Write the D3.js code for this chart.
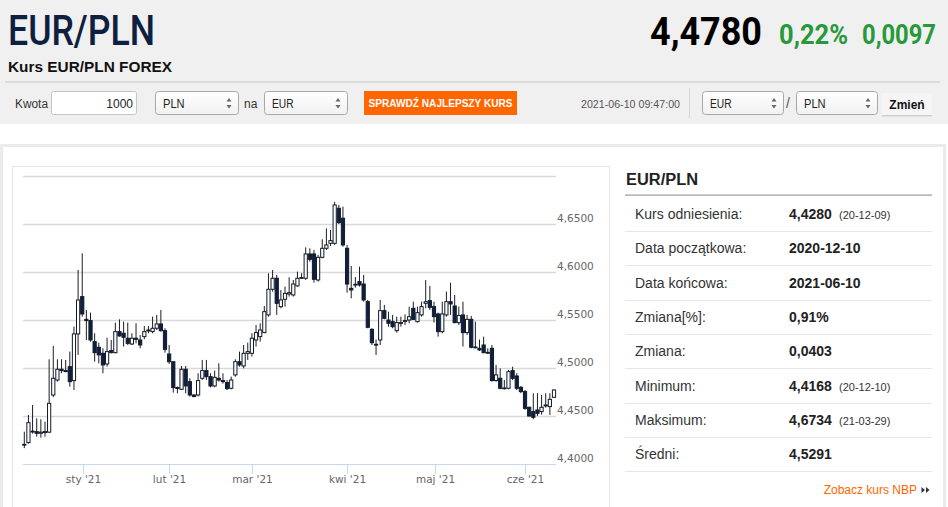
<!DOCTYPE html>
<html><head><meta charset="utf-8">
<script src="https://cdn.jsdelivr.net/npm/d3@7/dist/d3.min.js"></script>
<style>html,body{margin:0;padding:0;background:#fff;overflow:hidden}svg{display:block}</style>
</head><body>
<script>
// ---------- DATA ----------
const dates = [
"2020-12-10","2020-12-11","2020-12-14","2020-12-15","2020-12-16","2020-12-17","2020-12-18","2020-12-21","2020-12-22","2020-12-23","2020-12-24","2020-12-28","2020-12-29","2020-12-30","2020-12-31",
"2021-01-04","2021-01-05","2021-01-06","2021-01-07","2021-01-08","2021-01-11","2021-01-12","2021-01-13","2021-01-14","2021-01-15","2021-01-18","2021-01-19","2021-01-20","2021-01-21","2021-01-22","2021-01-25","2021-01-26","2021-01-27","2021-01-28","2021-01-29",
"2021-02-01","2021-02-02","2021-02-03","2021-02-04","2021-02-05","2021-02-08","2021-02-09","2021-02-10","2021-02-11","2021-02-12","2021-02-15","2021-02-16","2021-02-17","2021-02-18","2021-02-19","2021-02-22","2021-02-23","2021-02-24","2021-02-25","2021-02-26",
"2021-03-01","2021-03-02","2021-03-03","2021-03-04","2021-03-05","2021-03-08","2021-03-09","2021-03-10","2021-03-11","2021-03-12","2021-03-15","2021-03-16","2021-03-17","2021-03-18","2021-03-19","2021-03-22","2021-03-23","2021-03-24","2021-03-25","2021-03-26","2021-03-29","2021-03-30","2021-03-31",
"2021-04-01","2021-04-02","2021-04-05","2021-04-06","2021-04-07","2021-04-08","2021-04-09","2021-04-12","2021-04-13","2021-04-14","2021-04-15","2021-04-16","2021-04-19","2021-04-20","2021-04-21","2021-04-22","2021-04-23","2021-04-26","2021-04-27","2021-04-28","2021-04-29","2021-04-30",
"2021-05-03","2021-05-04","2021-05-05","2021-05-06","2021-05-07","2021-05-10","2021-05-11","2021-05-12","2021-05-13","2021-05-14","2021-05-17","2021-05-18","2021-05-19","2021-05-20","2021-05-21","2021-05-24","2021-05-25","2021-05-26","2021-05-27","2021-05-28","2021-05-31",
"2021-06-01","2021-06-02","2021-06-03","2021-06-04","2021-06-07","2021-06-08","2021-06-09","2021-06-10"];

const open = [
4.4208,4.4226,4.4345,4.4340,4.4323,4.4340,4.4335,4.4722,4.4878,4.4990,4.4976,4.5017,4.4872,4.5358,4.5747,
4.5510,4.5497,4.5278,4.5219,4.5156,4.5045,4.5184,4.5163,4.5382,4.5365,4.5313,4.5253,4.5313,4.5295,4.5330,4.5399,4.5382,4.5417,4.5462,4.5392,
4.5149,4.5069,4.4800,4.4781,4.4990,4.4861,4.4722,4.4722,4.4896,4.4976,4.4913,4.4816,4.4896,4.4872,4.4851,4.4792,4.4931,4.5069,4.5024,4.5156,
4.5156,4.5295,4.5330,4.5372,4.5556,4.5823,4.5938,4.5642,4.5719,4.5774,4.5764,4.5858,4.5938,4.5938,4.6191,4.6191,4.5920,4.6156,4.6250,4.6302,4.6302,4.6667,4.6563,
4.6250,4.5833,4.5868,4.5903,4.5878,4.5694,4.5406,4.5250,4.5295,4.5601,4.5503,4.5486,4.5392,4.5470,4.5490,4.5503,4.5625,4.5486,4.5556,4.5677,4.5705,4.5642,
4.5566,4.5382,4.5556,4.5694,4.5649,4.5476,4.5556,4.5372,4.5510,4.5222,4.5208,4.5243,4.5166,4.5208,4.4872,4.4896,4.4795,4.4792,4.4976,4.4920,4.4802,
4.4757,4.4594,4.4549,4.4566,4.4549,4.4608,4.4601,4.4698];

const high = [
4.4340,4.4514,4.4618,4.4479,4.4469,4.4444,4.5094,4.5233,4.5094,4.5094,4.5087,4.5174,4.5434,4.6024,4.6198,
4.5608,4.5580,4.5365,4.5267,4.5208,4.5319,4.5295,4.5476,4.5510,4.5486,4.5476,4.5365,4.5469,4.5347,4.5441,4.5441,4.5538,4.5556,4.5608,4.5417,
4.5243,4.5069,4.4810,4.5024,4.5024,4.4896,4.4730,4.4948,4.5087,4.5087,4.4948,4.4976,4.5052,4.4948,4.4878,4.4913,4.5094,4.5174,4.5243,4.5267,
4.5365,4.5451,4.5469,4.5649,4.5990,4.6024,4.5972,4.5816,4.5851,4.5948,4.5920,4.6007,4.5990,4.6260,4.6250,4.6233,4.6181,4.6344,4.6458,4.6441,4.6734,4.6701,4.6684,
4.6285,4.6066,4.5950,4.6059,4.5972,4.5712,4.5417,4.5300,4.5712,4.5660,4.5590,4.5556,4.5538,4.5538,4.5562,4.5642,4.5694,4.5642,4.5694,4.5920,4.5858,4.5694,
4.5580,4.5694,4.5799,4.5892,4.5764,4.5642,4.5694,4.5556,4.5545,4.5486,4.5300,4.5330,4.5208,4.5243,4.5035,4.5000,4.4878,4.4983,4.5017,4.4948,4.4816,
4.4774,4.4601,4.4740,4.4740,4.4722,4.4740,4.4740,4.4781];

const low = [
4.4168,4.4215,4.4320,4.4288,4.4278,4.4288,4.4325,4.4700,4.4861,4.4948,4.4962,4.4809,4.4774,4.5139,4.5538,
4.5295,4.5278,4.5069,4.5052,4.4948,4.5017,4.5156,4.5156,4.5330,4.5226,4.5243,4.5243,4.5260,4.5208,4.5302,4.5365,4.5365,4.5399,4.5382,4.5163,
4.5045,4.4747,4.4740,4.4775,4.4740,4.4705,4.4700,4.4705,4.4878,4.4878,4.4802,4.4802,4.4861,4.4840,4.4774,4.4781,4.4913,4.5017,4.5000,4.5087,
4.5122,4.5226,4.5278,4.5365,4.5538,4.5799,4.5556,4.5625,4.5642,4.5747,4.5747,4.5851,4.5931,4.5920,4.6111,4.5892,4.5903,4.6146,4.6233,4.6274,4.6285,4.6503,4.6267,
4.5788,4.5729,4.5840,4.5851,4.5694,4.5417,4.5243,4.5139,4.5243,4.5510,4.5434,4.5417,4.5372,4.5434,4.5451,4.5469,4.5503,4.5476,4.5538,4.5625,4.5608,4.5476,
4.5330,4.5365,4.5538,4.5556,4.5469,4.5451,4.5226,4.5347,4.5208,4.5208,4.5180,4.5156,4.5150,4.4861,4.4861,4.4781,4.4781,4.4781,4.4878,4.4774,4.4740,
4.4566,4.4497,4.4469,4.4503,4.4517,4.4590,4.4514,4.4691];

const close = [
4.4201,4.4434,4.4338,4.4323,4.4335,4.4332,4.4635,4.4896,4.4990,4.4976,4.4965,4.4861,4.5358,4.5712,4.5566,
4.5497,4.5295,4.5163,4.5140,4.5035,4.5174,4.5163,4.5382,4.5337,4.5323,4.5260,4.5313,4.5302,4.5243,4.5382,4.5389,4.5417,4.5462,4.5392,4.5198,
4.5069,4.4799,4.4790,4.4990,4.4816,4.4722,4.4705,4.4872,4.4976,4.4913,4.4816,4.4906,4.4878,4.4861,4.4788,4.4878,4.5069,4.5035,4.5156,4.5174,
4.5313,4.5372,4.5399,4.5590,4.5823,4.5938,4.5677,4.5712,4.5781,4.5788,4.5878,4.5938,4.5945,4.6191,4.6135,4.5927,4.6156,4.6250,4.6285,4.6330,4.6701,4.6517,4.6285,
4.5878,4.5816,4.5875,4.5868,4.5712,4.5427,4.5267,4.5243,4.5601,4.5521,4.5469,4.5434,4.5476,4.5476,4.5497,4.5538,4.5510,4.5580,4.5642,4.5694,4.5635,4.5538,
4.5382,4.5566,4.5694,4.5670,4.5476,4.5550,4.5372,4.5510,4.5219,4.5219,4.5191,4.5163,4.5163,4.4872,4.4931,4.4792,4.4792,4.4965,4.4896,4.4792,4.4757,
4.4583,4.4503,4.4490,4.4531,4.4594,4.4618,4.4677,4.4774];

const yTicks = [4.40, 4.45, 4.50, 4.55, 4.60, 4.65, 4.70];
const yTickLabels = ["4,4000","4,4500","4,5000","4,5500","4,6000","4,6500",""];
const monthTicks = ["2021-01-01","2021-02-01","2021-03-01","2021-04-01","2021-05-01","2021-06-01"];
const monthLabels = ["sty '21","lut '21","mar '21","kwi '21","maj '21","cze '21"];

const statLabels = ["Kurs odniesienia:","Data początkowa:","Data końcowa:","Zmiana[%]:","Zmiana:","Minimum:","Maksimum:","Średni:"];
const statValues = ["4,4280","2020-12-10","2021-06-10","0,91%","0,0403","4,4168","4,6734","4,5291"];
const statDates  = ["(20-12-09)","","","","","(20-12-10)","(21-03-29)",""];

const pairTitle = "EUR/PLN";
const subTitle = "Kurs EUR/PLN FOREX";
const lastPrice = "4,4780", changePct = "0,22%", changeAbs = "0,0097";
const timestamp = "2021-06-10 09:47:00";

// ---------- DRAW ----------
const W = 948, H = 507;
const svg = d3.select("body").append("svg").attr("width", W).attr("height", H);
const SANS = "'Liberation Sans', Arial, sans-serif";
const NAVY = "#0e2040";

svg.append("rect").attr("x",0).attr("y",0).attr("width",W).attr("height",124).attr("fill","#f0f0f0");
svg.append("rect").attr("x",1.5).attr("y",145.5).attr("width",943).attr("height",372)
  .attr("fill","#fff").attr("stroke","#ebebeb").attr("stroke-width",3);

function txt(x, y, s, o) {
  const t = svg.append("text").attr("x", x).attr("y", y).text(s)
    .attr("font-family", o.font || SANS).attr("font-size", o.size)
    .attr("font-weight", o.weight || "normal").attr("fill", o.fill || "#333")
    .attr("text-anchor", o.anchor || "start");
  if (o.len) t.attr("textLength", o.len).attr("lengthAdjust", "spacingAndGlyphs");
  return t;
}

txt(8, 45, pairTitle, {font:"Roboto, sans-serif", size:42, weight:500, fill:NAVY, len:147});
txt(8, 72, subTitle, {size:15, weight:"bold", fill:"#111", len:164});
txt(650, 45, lastPrice, {font:"Roboto, sans-serif", size:38, weight:"bold", fill:"#000", len:112});
txt(779, 44, changePct, {font:"Roboto, sans-serif", size:27, weight:"bold", fill:"#27993b", len:69});
txt(862, 44, changeAbs, {font:"Roboto, sans-serif", size:27, weight:"bold", fill:"#27993b", len:74});
svg.append("rect").attr("x",5).attr("y",81).attr("width",935).attr("height",2).attr("fill","#dcdcdc");

const defs = svg.append("defs");
const g1 = defs.append("linearGradient").attr("id","selg").attr("x1",0).attr("y1",0).attr("x2",0).attr("y2",1);
g1.append("stop").attr("offset","0").attr("stop-color","#ffffff");
g1.append("stop").attr("offset","1").attr("stop-color","#f1f1f1");

txt(15, 107.5, "Kwota", {size:12, fill:"#333", len:33});
svg.append("rect").attr("x",51.5).attr("y",91.5).attr("width",85).attr("height",23).attr("rx",2)
  .attr("fill","#fff").attr("stroke","#c4c4c4");
txt(133, 107.5, "1000", {size:12, fill:"#222", anchor:"end"});

function select(x, w, label) {
  svg.append("rect").attr("x",x+0.5).attr("y",91.5).attr("width",w).attr("height",23).attr("rx",3)
    .attr("fill","url(#selg)").attr("stroke","#a8a8a8");
  txt(x+8, 107.5, label, {size:12.5, fill:"#222", len:label.length*7.2});
  const ax = x + w - 9;
  svg.append("path").attr("d",`M${ax-2.5},${101.5}L${ax+2.5},${101.5}L${ax},${98}Z`).attr("fill","#666");
  svg.append("path").attr("d",`M${ax-2.5},${105}L${ax+2.5},${105}L${ax},${108.5}Z`).attr("fill","#666");
}
select(155, 83, "PLN");
txt(244, 107.5, "na", {size:12, fill:"#333"});
select(264, 83, "EUR");
svg.append("rect").attr("x",364).attr("y",91).attr("width",153).attr("height",24).attr("fill","#ff6600");
txt(440.5, 107, "SPRAWDŹ NAJLEPSZY KURS", {size:11, weight:"bold", fill:"#fff", anchor:"middle", len:144});
txt(581, 107.5, timestamp, {size:11, fill:"#555", len:99});
svg.append("rect").attr("x",689).attr("y",88).attr("width",1).attr("height",30).attr("fill","#d6d6d6");
select(702, 81, "EUR");
txt(786, 108, "/", {size:14, fill:"#555"});
select(796, 81, "PLN");
svg.append("rect").attr("x",882).attr("y",93).attr("width",50).attr("height",23).attr("fill","#f5f5f5");
svg.append("rect").attr("x",882).attr("y",115).attr("width",50).attr("height",1.5).attr("fill","#cfcfcf");
txt(907, 109, "Zmień", {size:12, weight:"bold", fill:"#111", anchor:"middle"});

// chart frame (bottom edge lies below the visible area)
svg.append("rect").attr("x",12.5).attr("y",166.5).attr("width",597).attr("height",360)
  .attr("fill","#fff").attr("stroke","#e6e6e6");

const x = d3.scaleLinear().domain([0, dates.length - 1]).range([24.3, 554]);
const y = d3.scaleLinear().domain([4.40, 4.70]).range([464.3, 176.3]);
const plotL = 23, plotR = 556;

const gy = svg.append("g");
yTicks.forEach((v, k) => {
  if (k > 0) gy.append("line").attr("x1",plotL).attr("x2",plotR)
      .attr("y1",Math.round(y(v))+0.5).attr("y2",Math.round(y(v))+0.5)
      .attr("stroke","#d9d9d9").attr("stroke-width",1.3);
  if (yTickLabels[k]) txt(557, y(v) - 2.5, yTickLabels[k],
      {font:"'DejaVu Sans', Verdana, sans-serif", size:10.5, fill:"#666"});
});

const parse = d3.utcParse("%Y-%m-%d");
const times = dates.map(d => parse(d).getTime());
function ordinalPos(t) {
  const i = d3.bisectRight(times, t) - 1;
  if (i < 0) return 0;
  if (i >= times.length - 1) return times.length - 1;
  return i + (t - times[i]) / (times[i+1] - times[i]);
}
svg.append("line").attr("x1",plotL).attr("x2",plotR).attr("y1",464.5).attr("y2",464.5)
  .attr("stroke","#ccd6eb").attr("stroke-width",1);
monthTicks.forEach((m, k) => {
  const px = Math.round(x(ordinalPos(parse(m).getTime()))) + 0.5;
  svg.append("line").attr("x1",px).attr("x2",px).attr("y1",464.5).attr("y2",474)
    .attr("stroke","#ccd6eb");
  txt(px, 483, monthLabels[k], {font:"'DejaVu Sans', Verdana, sans-serif", size:10.5, fill:"#666", anchor:"middle"});
});

const candles = svg.append("g");
dates.forEach((d, i) => {
  const cx = x(i);
  candles.append("line").attr("x1",cx).attr("x2",cx)
    .attr("y1",y(high[i])).attr("y2",y(low[i])).attr("stroke","#1e1e1e").attr("stroke-width",1);
  const up = close[i] >= open[i];
  const top = y(Math.max(open[i], close[i])), bot = y(Math.min(open[i], close[i]));
  candles.append("rect").attr("x",cx-1.6).attr("width",3.2)
    .attr("y",top).attr("height",Math.max(0.8, bot-top))
    .attr("fill", up ? "#fff" : NAVY).attr("stroke", "#111a2a").attr("stroke-width",1);
});

txt(626, 185, pairTitle, {size:16, weight:"bold", fill:"#222", len:72});
svg.append("rect").attr("x",625).attr("y",194.5).attr("width",307).attr("height",1.2).attr("fill","#9a9a9a");
statLabels.forEach((lab, i) => {
  const by = 219 + i * 34.3;
  txt(635, by, lab, {size:14, fill:"#333"});
  txt(789, by, statValues[i], {size:14, weight:"bold", fill:"#222"});
  if (statDates[i]) txt(839, by, statDates[i], {size:11, fill:"#333"});
  svg.append("rect").attr("x",625).attr("y",Math.round(231 + i*34.3)).attr("width",307).attr("height",1).attr("fill","#e6e6e6");
});
txt(917, 494, "Zobacz kurs NBP", {size:12, fill:"#ff6600", anchor:"end"});
svg.append("path").attr("d","M921.5,487L925,490L921.5,493Z M926,487L929.5,490L926,493Z").attr("fill","#333");
</script>
</body></html>
